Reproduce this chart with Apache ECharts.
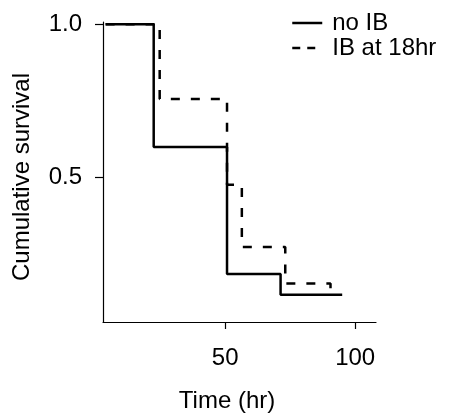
<!DOCTYPE html>
<html>
<head>
<meta charset="utf-8">
<script src="https://cdn.jsdelivr.net/npm/echarts@6/dist/echarts.min.js"></script>
<style>html,body{margin:0;padding:0;background:#fff;}#c{width:451px;height:417px;}</style>
</head>
<body>
<div id="c"></div>
<script>
// Data
const seriesNames = ['no IB', 'IB at 18hr'];
const timeNoIB = [4, 22.5, 50.7, 71.3, 95];
const survNoIB = [1.0, 0.599, 0.185, 0.117, 0.117];
const timeIB = [4, 24.8, 50.7, 56.4, 73.1, 90.5];
const survIB = [1.0, 0.756, 0.476, 0.273, 0.154, 0.133];
const xTicks = [50, 100];
const yTicks = [0.5, 1.0];
const xTitle = 'Time (hr)';
const yTitle = 'Cumulative survival';

const pair = (xs, ys) => xs.map((x, i) => [x, ys[i]]);
const FONT = 'Liberation Sans, Arial, sans-serif';

const chart = echarts.init(document.getElementById('c'), null, {renderer: 'canvas'});
chart.setOption({
  animation: false,
  backgroundColor: '#fff',
  grid: {left: 103, right: 75, top: 22, bottom: 95},
  legend: {
    orient: 'vertical',
    left: 291, top: 11, padding: 0,
    itemWidth: 30, itemHeight: 14, itemGap: 1,
    textStyle: {fontFamily: FONT, fontSize: 24, color: '#000', lineHeight: 24, padding: [0, 0, 0, 5]},
    data: [
      {name: seriesNames[0], itemStyle: {opacity: 0}, lineStyle: {type: 'solid', width: 2.5, color: '#000'}},
      {name: seriesNames[1], itemStyle: {opacity: 0}, lineStyle: {type: [8, 7], width: 2.5, color: '#000'}}
    ]
  },
  xAxis: {
    type: 'value', min: 3, max: 108,
    splitLine: {show: false},
    axisLine: {lineStyle: {color: '#000', width: 1.2}},
    axisTick: {show: true, length: 7, customValues: xTicks, lineStyle: {color: '#000', width: 1.2}},
    axisLabel: {customValues: xTicks, margin: 24, color: '#000', fontFamily: FONT, fontSize: 24}
  },
  yAxis: {
    type: 'value', min: 0.028, max: 1.007,
    splitLine: {show: false},
    axisLine: {show: true, lineStyle: {color: '#000', width: 1.2}},
    axisTick: {show: true, length: 8, customValues: yTicks, lineStyle: {color: '#000', width: 1.2}},
    axisLabel: {customValues: yTicks, margin: 21, color: '#000', fontFamily: FONT, fontSize: 24,
      formatter: v => Number(v).toFixed(1)}
  },
  graphic: [
    {type: 'text', x: 227, y: 401, style: {text: xTitle, fill: '#000', font: '24px ' + FONT, textAlign: 'center', textVerticalAlign: 'middle'}},
    {type: 'text', x: 22, y: 177, rotation: Math.PI / 2, style: {text: yTitle, fill: '#000', font: '24px ' + FONT, textAlign: 'center', textVerticalAlign: 'middle'}}
  ],
  series: [
    {name: seriesNames[1], type: 'line', step: 'end', symbol: 'none', data: pair(timeIB, survIB),
      lineStyle: {color: '#000', width: 2.5, type: [9, 11]}, itemStyle: {color: '#000'}},
    {name: seriesNames[0], type: 'line', step: 'end', symbol: 'none', data: pair(timeNoIB, survNoIB),
      lineStyle: {color: '#000', width: 2.5, type: 'solid'}, itemStyle: {color: '#000'}}
  ]
});
</script>
</body>
</html>
